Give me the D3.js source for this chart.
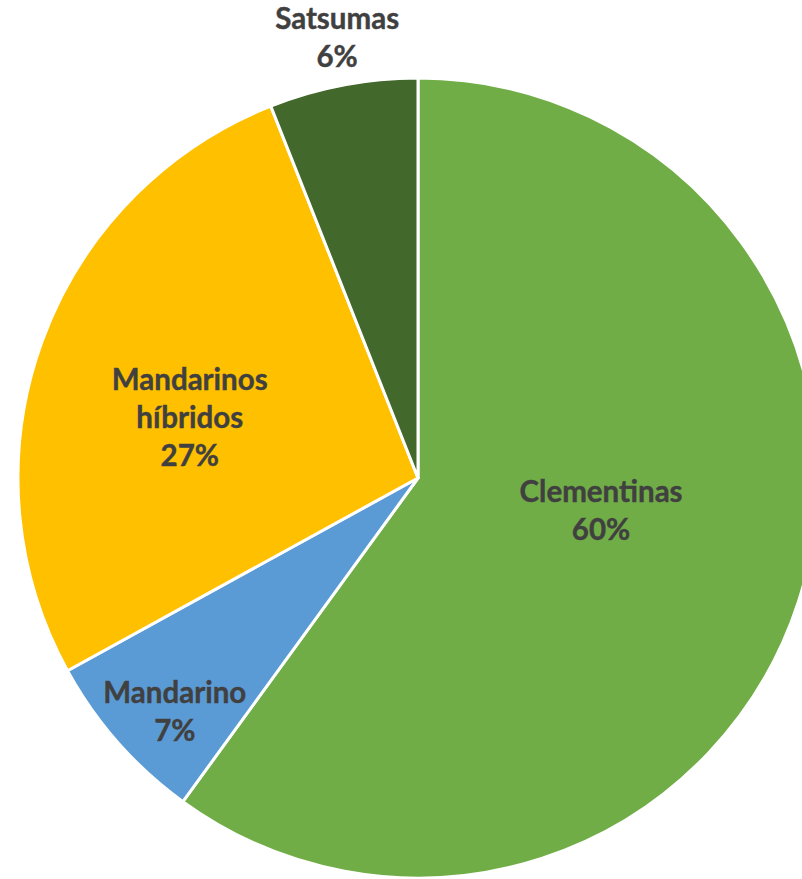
<!DOCTYPE html>
<html><head><meta charset="utf-8">
<script src="https://cdn.jsdelivr.net/npm/d3@7/dist/d3.min.js"></script>
<style>html,body{margin:0;padding:0;background:#fff;overflow:hidden}</style>
</head><body>
<script>
const categories = ["Clementinas", "Mandarino", "Mandarinos híbridos", "Satsumas"];
const values = [60, 7, 27, 6];
const labelLines = [["Clementinas"], ["Mandarino"], ["Mandarinos", "híbridos"], ["Satsumas"]];
const colors = ["#70AD47", "#5B9BD5", "#FFC000", "#43682B"];
// label placement (radius in px, angle offset from slice mid-angle in degrees)
const labelRadius = [186, 337, 236, 448];
const labelAngleOffset = [-7.8, -2.4, -5.1, 0.4];

const W = 802, H = 879, cx = 418, cy = 478, R = 400;
const svg = d3.select("body").append("svg").attr("width", W).attr("height", H);
const g = svg.append("g").attr("transform", `translate(${cx},${cy})`);
const total = d3.sum(values);
const pie = d3.pie().sort(null).value(d => d)(values);
const arc = d3.arc().innerRadius(0).outerRadius(R);
g.selectAll("path").data(pie).join("path")
  .attr("d", arc).attr("fill", (d, i) => colors[i])
  .attr("stroke", "#fff").attr("stroke-width", 3).attr("stroke-linejoin", "round");

const lh = 38;
pie.forEach((d, i) => {
  const a = (d.startAngle + d.endAngle) / 2 + labelAngleOffset[i] * Math.PI / 180;
  const x = labelRadius[i] * Math.sin(a), y = -labelRadius[i] * Math.cos(a);
  const lines = labelLines[i].concat([Math.round(values[i] / total * 100) + "%"]);
  const t = g.append("text").attr("text-anchor", "middle")
    .attr("font-family", "Lato, 'Open Sans', sans-serif").attr("font-weight", "bold")
    .attr("font-size", 29.5).attr("fill", "#404040")
    .attr("stroke", "#404040").attr("stroke-width", 0.4);
  lines.forEach((l, j) => {
    t.append("tspan").attr("x", x).attr("y", y + (j - (lines.length - 1) / 2) * lh).attr("dy", "0.35em").text(l);
  });
});
</script>
</body></html>
